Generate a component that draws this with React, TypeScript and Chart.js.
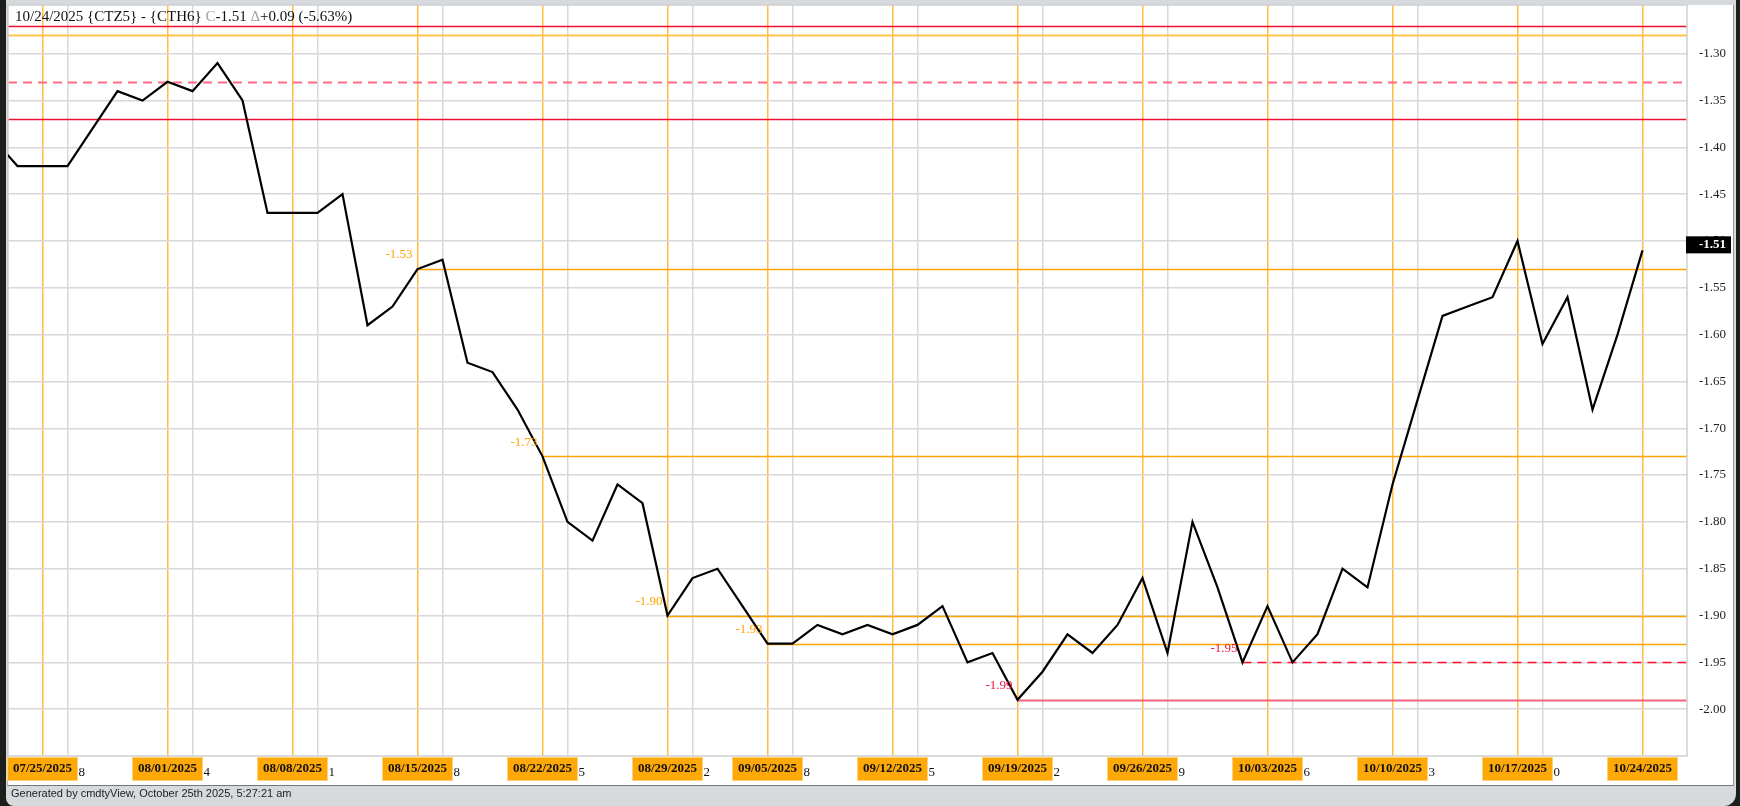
import { useEffect, useRef } from 'react';
import { Chart, registerables } from 'chart.js';

Chart.register(...registerables);

// ---------- data ----------
const dates = [
  '07/23/2025', '07/24/2025', '07/25/2025',
  '07/28/2025', '07/29/2025', '07/30/2025', '07/31/2025', '08/01/2025',
  '08/04/2025', '08/05/2025', '08/06/2025', '08/07/2025', '08/08/2025',
  '08/11/2025', '08/12/2025', '08/13/2025', '08/14/2025', '08/15/2025',
  '08/18/2025', '08/19/2025', '08/20/2025', '08/21/2025', '08/22/2025',
  '08/25/2025', '08/26/2025', '08/27/2025', '08/28/2025', '08/29/2025',
  '09/02/2025', '09/03/2025', '09/04/2025', '09/05/2025',
  '09/08/2025', '09/09/2025', '09/10/2025', '09/11/2025', '09/12/2025',
  '09/15/2025', '09/16/2025', '09/17/2025', '09/18/2025', '09/19/2025',
  '09/22/2025', '09/23/2025', '09/24/2025', '09/25/2025', '09/26/2025',
  '09/29/2025', '09/30/2025', '10/01/2025', '10/02/2025', '10/03/2025',
  '10/06/2025', '10/07/2025', '10/08/2025', '10/09/2025', '10/10/2025',
  '10/13/2025', '10/14/2025', '10/15/2025', '10/16/2025', '10/17/2025',
  '10/20/2025', '10/21/2025', '10/22/2025', '10/23/2025', '10/24/2025',
];

const spreadValues = [
  -1.39, -1.42, -1.42,
  -1.42, -1.38, -1.34, -1.35, -1.33,
  -1.34, -1.31, -1.35, -1.47, -1.47,
  -1.47, -1.45, -1.59, -1.57, -1.53,
  -1.52, -1.63, -1.64, -1.68, -1.73,
  -1.80, -1.82, -1.76, -1.78, -1.90,
  -1.86, -1.85, -1.89, -1.93,
  -1.93, -1.91, -1.92, -1.91, -1.92,
  -1.91, -1.89, -1.95, -1.94, -1.99,
  -1.96, -1.92, -1.94, -1.91, -1.86,
  -1.94, -1.80, -1.87, -1.95, -1.89,
  -1.95, -1.92, -1.85, -1.87, -1.76,
  -1.67, -1.58, -1.57, -1.56, -1.50,
  -1.61, -1.56, -1.68, -1.60, -1.51,
];

const yTickValues = [-2.0, -1.95, -1.9, -1.85, -1.8, -1.75, -1.7, -1.65, -1.6, -1.55, -1.5, -1.45, -1.4, -1.35, -1.3];

// full-width horizontal levels
const levelValues = [-1.27, -1.28, -1.33, -1.37];
// swing points marked with a level line running to the right edge
const markedIndices = [17, 22, 27, 31, 41, 50];

const symbolText = '{CTZ5} - {CTH6}';
const footerText = 'Generated by cmdtyView, October 25th 2025, 5:27:21 am';

// ---------- styles ----------
const SERIF = '"Liberation Serif", "Times New Roman", Times, serif';
const ORANGE = '#FFA500';
const ORANGE_V = 'rgba(255,170,20,0.8)';
const GRID = '#d8d8d8';
const levelStyles = [
  { color: '#EE1136', width: 1.5, dash: [] as number[] },
  { color: '#FFC24F', width: 2, dash: [] as number[] },
  { color: '#FF6C84', width: 2, dash: [9, 6] },
  { color: '#EE1136', width: 1.5, dash: [] as number[] },
];
const markStyles = [
  { line: ORANGE, text: ORANGE, dash: [] as number[], width: 1.5 },
  { line: ORANGE, text: ORANGE, dash: [] as number[], width: 1.5 },
  { line: ORANGE, text: ORANGE, dash: [] as number[], width: 1.5 },
  { line: ORANGE, text: ORANGE, dash: [] as number[], width: 1.5 },
  { line: '#F2627C', text: '#EE1440', dash: [] as number[], width: 2 },
  { line: '#FF1435', text: '#EE1440', dash: [9, 6], width: 1.5 },
];

const X_MIN = 0.62;
const X_MAX = 67.78;
const Y_MIN = -2.05;
const Y_MAX = -1.248;

function dow(s: string) {
  const [m, d, y] = s.split('/').map(Number);
  return new Date(y, m - 1, d).getDay();
}
const fridayIdx: number[] = [];
const weekStartIdx: number[] = [];
dates.forEach((d, i) => {
  if (dow(d) === 5) fridayIdx.push(i);
  if (i > 0 && dow(d) < dow(dates[i - 1])) weekStartIdx.push(i);
});
const fridaySet = new Set(fridayIdx);
const gridIdx = [...weekStartIdx, ...fridayIdx].sort((a, b) => a - b);

export default function App() {
  const ref = useRef<HTMLCanvasElement | null>(null);

  useEffect(() => {
    const canvas = ref.current;
    if (!canvas) return;

    const overlay = {
      id: 'overlay',
      beforeDatasetsDraw(chart: any) {
        const { ctx, chartArea: a, scales } = chart;
        const xs = scales.x;
        const ys = scales.y;
        ctx.save();
        ctx.beginPath();
        ctx.rect(a.left, a.top, a.right - a.left, a.bottom - a.top);
        ctx.clip();
        levelValues.forEach((v, k) => {
          const st = levelStyles[k];
          const y = Math.round(ys.getPixelForValue(v)) + 0.5;
          ctx.strokeStyle = st.color;
          ctx.lineWidth = st.width;
          ctx.setLineDash(st.dash);
          ctx.beginPath();
          ctx.moveTo(a.left, y);
          ctx.lineTo(a.right, y);
          ctx.stroke();
        });
        markedIndices.forEach((idx, k) => {
          const st = markStyles[k];
          const x = xs.getPixelForValue(idx);
          const y = Math.round(ys.getPixelForValue(spreadValues[idx])) + 0.5;
          ctx.strokeStyle = st.line;
          ctx.lineWidth = st.width;
          ctx.setLineDash(st.dash);
          ctx.beginPath();
          ctx.moveTo(x, y);
          ctx.lineTo(a.right, y);
          ctx.stroke();
        });
        ctx.setLineDash([]);
        ctx.restore();
        // plot border
        ctx.save();
        ctx.strokeStyle = '#cfcfcf';
        ctx.lineWidth = 1.5;
        ctx.strokeRect(a.left, a.top, a.right - a.left, a.bottom - a.top);
        ctx.restore();
      },
      afterDatasetsDraw(chart: any) {
        const { ctx, chartArea: a, scales } = chart;
        const xs = scales.x;
        const ys = scales.y;
        ctx.save();
        // labels for marked points
        ctx.font = `13px ${SERIF}`;
        ctx.textAlign = 'right';
        ctx.textBaseline = 'middle';
        markedIndices.forEach((idx, k) => {
          const x = xs.getPixelForValue(idx);
          const y = ys.getPixelForValue(spreadValues[idx]);
          ctx.fillStyle = markStyles[k].text;
          ctx.fillText(spreadValues[idx].toFixed(2), x - 5, y - 14);
        });

        // week start day numbers
        const boxTop = a.bottom + 1;
        const boxH = 24;
        ctx.fillStyle = '#111';
        ctx.font = `13px ${SERIF}`;
        ctx.textAlign = 'right';
        weekStartIdx.forEach((idx) => {
          const x = xs.getPixelForValue(idx);
          const day = String(Number(dates[idx].split('/')[1]));
          ctx.fillText(day, x + 17.5, boxTop + 15.5);
        });
        // friday date boxes
        ctx.font = `bold 13px ${SERIF}`;
        ctx.textAlign = 'center';
        fridayIdx.forEach((idx) => {
          const x = xs.getPixelForValue(idx);
          const w = 71;
          ctx.fillStyle = '#FFA909';
          ctx.fillRect(x - w / 2, boxTop, w, boxH);
          ctx.strokeStyle = '#FFD27A';
          ctx.lineWidth = 1;
          ctx.strokeRect(x - w / 2 + 0.5, boxTop + 0.5, w - 1, boxH - 1);
          ctx.fillStyle = '#111';
          ctx.fillText(dates[idx], x, boxTop + 12);
        });

        // current value box
        const last = spreadValues[spreadValues.length - 1];
        const prev = spreadValues[spreadValues.length - 2];
        const yl = ys.getPixelForValue(last);
        ctx.fillStyle = '#000';
        ctx.fillRect(a.right - 1, yl - 14, 45, 17);
        ctx.fillStyle = '#fff';
        ctx.font = `bold 13px ${SERIF}`;
        ctx.textAlign = 'left';
        ctx.fillText(last.toFixed(2), a.right + 12, yl - 5.5);

        // title
        const change = Math.round((last - prev) * 100) / 100;
        const pctRaw = (change / prev) * 100;
        const pct = (pctRaw < 0 ? -1 : 1) * (Math.round(Math.abs(pctRaw) * 100 + 1e-6) / 100);
        const parts: [string, string][] = [
          [`${dates[dates.length - 1]} ${symbolText} `, '#111'],
          ['C', '#a0a0a0'],
          [`${last.toFixed(2)} `, '#111'],
          ['\u0394', '#a0a0a0'],
          [`${change >= 0 ? '+' : ''}${change.toFixed(2)} (${pct.toFixed(2)}%)`, '#111'],
        ];
        ctx.font = `15px ${SERIF}`;
        ctx.textAlign = 'left';
        ctx.textBaseline = 'middle';
        let tx = 15;
        parts.forEach(([t, c]) => {
          ctx.fillStyle = c;
          ctx.fillText(t, tx, 17.5);
          tx += ctx.measureText(t).width;
        });
        ctx.restore();
      },
    };

    const chart = new Chart(canvas, {
      type: 'line',
      data: {
        datasets: [
          {
            data: spreadValues.map((v, i) => ({ x: i, y: v })),
            borderColor: '#000',
            borderWidth: 2.2,
            pointRadius: 0,
            tension: 0,
            fill: false,
          },
        ],
      },
      options: {
        responsive: false,
        animation: false,
        layout: { padding: { left: 8, top: 5, right: 7, bottom: 50 } },
        plugins: { legend: { display: false }, tooltip: { enabled: false } },
        scales: {
          x: {
            type: 'linear',
            min: X_MIN,
            max: X_MAX,
            afterBuildTicks: (s: any) => {
              s.ticks = gridIdx.map((v) => ({ value: v }));
            },
            afterFit: (s: any) => {
              s.height = 0;
              s.paddingLeft = 0;
              s.paddingRight = 0;
              s.paddingTop = 0;
              s.paddingBottom = 0;
            },
            ticks: { display: false },
            border: { display: false },
            grid: {
              drawTicks: false,
              color: (c: any) => (fridaySet.has(c.tick?.value) ? ORANGE_V : GRID),
              lineWidth: 1.5,
            },
          },
          y: {
            type: 'linear',
            position: 'right',
            min: Y_MIN,
            max: Y_MAX,
            afterBuildTicks: (s: any) => {
              s.ticks = yTickValues.map((v) => ({ value: v }));
            },
            afterFit: (s: any) => {
              s.width = 46;
              s.paddingTop = 0;
              s.paddingBottom = 0;
              s.paddingLeft = 0;
              s.paddingRight = 0;
            },
            border: { display: false },
            grid: { drawTicks: false, color: GRID, lineWidth: 1.5 },
            ticks: {
              padding: 12,
              color: '#222',
              font: { family: SERIF, size: 13 },
              callback: (v: any) => Number(v).toFixed(2),
            },
          },
        },
      },
      plugins: [overlay],
    } as any);

    return () => chart.destroy();
  }, []);

  return (
    <div
      style={{
        position: 'fixed',
        left: 0,
        top: 0,
        width: 1740,
        height: 806,
        background: '#1c1f1b',
        overflow: 'hidden',
      }}
    >
      <div
        style={{
          position: 'absolute',
          left: 6,
          top: 0,
          width: 1730,
          height: 806,
          background: '#d7dadd',
          borderBottomLeftRadius: 8,
          borderBottomRightRadius: 12,
        }}
      />
      <div
        style={{
          position: 'absolute',
          left: 7,
          top: 5,
          width: 1725,
          height: 780,
          background: '#fff',
          borderLeft: '1px solid #b8b8b8',
          borderRight: '1px solid #9a9a9a',
          borderBottom: '1px solid #777',
        }}
      />
      <canvas
        ref={ref}
        width={1740}
        height={806}
        style={{ position: 'absolute', left: 0, top: 0, width: 1740, height: 806 }}
      />
      <div
        style={{
          position: 'absolute',
          left: 11,
          top: 787,
          lineHeight: '16px',
          font: '11px "Liberation Sans", Arial, sans-serif',
          color: '#222',
          whiteSpace: 'nowrap',
        }}
      >
        {footerText}
      </div>
    </div>
  );
}
